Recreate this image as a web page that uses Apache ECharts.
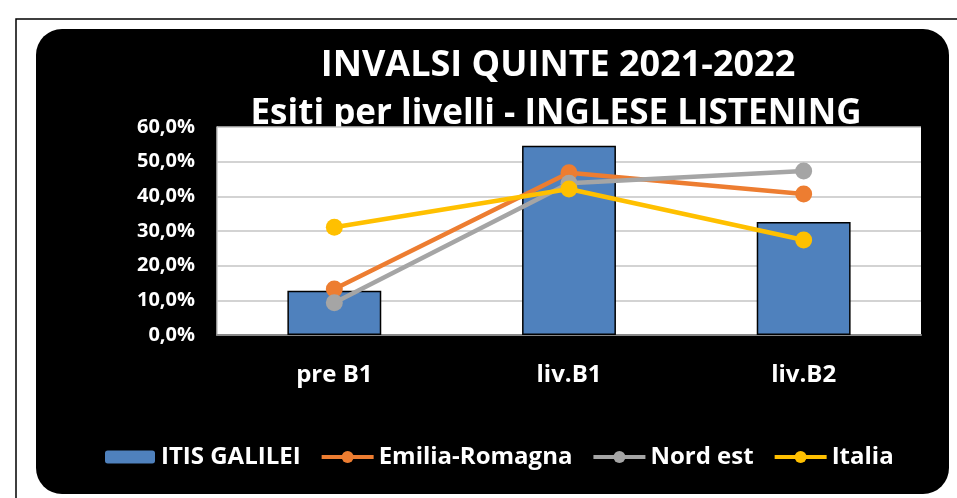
<!DOCTYPE html>
<html>
<head>
<meta charset="utf-8">
<script src="https://cdn.jsdelivr.net/npm/echarts@6/dist/echarts.min.js"></script>
<style>
html,body{margin:0;padding:0;background:#fff;}
#c{width:957px;height:498px;}
</style>
</head>
<body>
<div id="c"></div>
<script>
const categories = ['pre B1', 'liv.B1', 'liv.B2'];
const seriesNames = ['ITIS GALILEI', 'Emilia-Romagna', 'Nord est', 'Italia'];
const itisGalilei = [12.8, 54.6, 32.6];
const emiliaRomagna = [13.3, 46.8, 40.7];
const nordEst = [9.3, 43.8, 47.3];
const italia = [31.1, 42.1, 27.4];
const yTicks = [0, 10, 20, 30, 40, 50, 60];
const titleLines = ['INVALSI QUINTE 2021-2022', 'Esiti per livelli - INGLESE LISTENING'];

const FONT = '"Open Sans", sans-serif';
const chart = echarts.init(document.getElementById('c'), null, {renderer: 'canvas'});

function lineSeries(name, data, color) {
  return {
    name: name, type: 'line', data: data,
    symbol: 'circle', symbolSize: 17,
    lineStyle: {color: color, width: 4.5},
    itemStyle: {color: color},
    z: 3
  };
}

chart.setOption({
  backgroundColor: '#ffffff',
  animation: false,
  graphic: [
    {type: 'rect', z: -20, shape: {x: 16, y: 19, width: 960, height: 500}, style: {fill: '#ffffff', stroke: '#000', lineWidth: 1.5}},
    {type: 'rect', z: -10, shape: {x: 36, y: 29, width: 913, height: 465, r: 26}, style: {fill: '#000000'}}
  ],
  title: [
    {text: titleLines[0], left: 553, top: 43, textAlign: 'center', z: -1,
     textStyle: {color: '#fff', fontFamily: FONT, fontWeight: 'bold', fontSize: 36}},
    {text: titleLines[1], left: 551, top: 92, textAlign: 'center', z: -1,
     textStyle: {color: '#fff', fontFamily: FONT, fontWeight: 'bold', fontSize: 35}}
  ],
  legend: {
    data: [
      {name: seriesNames[0]},
      {name: seriesNames[1], lineStyle: {width: 4}},
      {name: seriesNames[2], lineStyle: {width: 4}},
      {name: seriesNames[3], lineStyle: {width: 4}}
    ],
    left: 98, top: 440,
    itemWidth: 52, itemHeight: 15, itemGap: 19,
    textStyle: {color: '#fff', fontFamily: FONT, fontWeight: 'bold', fontSize: 24}
  },
  grid: {
    left: 217, right: 36, top: 127, bottom: 163,
    show: true, backgroundColor: '#ffffff', borderWidth: 0, z: 0
  },
  xAxis: {
    type: 'category', data: categories,
    axisTick: {show: false},
    axisLine: {show: true, lineStyle: {color: '#888888', width: 2}},
    axisLabel: {color: '#fff', fontFamily: FONT, fontWeight: 'bold', fontSize: 24, margin: 28}
  },
  yAxis: {
    type: 'value', min: yTicks[0], max: yTicks[yTicks.length - 1], interval: 10,
    axisLine: {show: true, lineStyle: {color: '#C4C4C4', width: 1.5}},
    axisTick: {show: false},
    splitLine: {show: true, lineStyle: {color: '#C4C4C4', width: 1.5}},
    axisLabel: {color: '#fff', fontFamily: FONT, fontWeight: 'bold', fontSize: 20, margin: 22,
      formatter: v => v.toFixed(1).replace('.', ',') + '%'}
  },
  series: [
    {name: seriesNames[0], type: 'bar', data: itisGalilei, barWidth: '40%',
     itemStyle: {color: '#4F81BD', borderColor: '#000', borderWidth: 1.5}, z: 2},
    lineSeries(seriesNames[1], emiliaRomagna, '#ED7D31'),
    lineSeries(seriesNames[2], nordEst, '#A5A5A5'),
    lineSeries(seriesNames[3], italia, '#FFC000')
  ]
});
</script>
</body>
</html>
